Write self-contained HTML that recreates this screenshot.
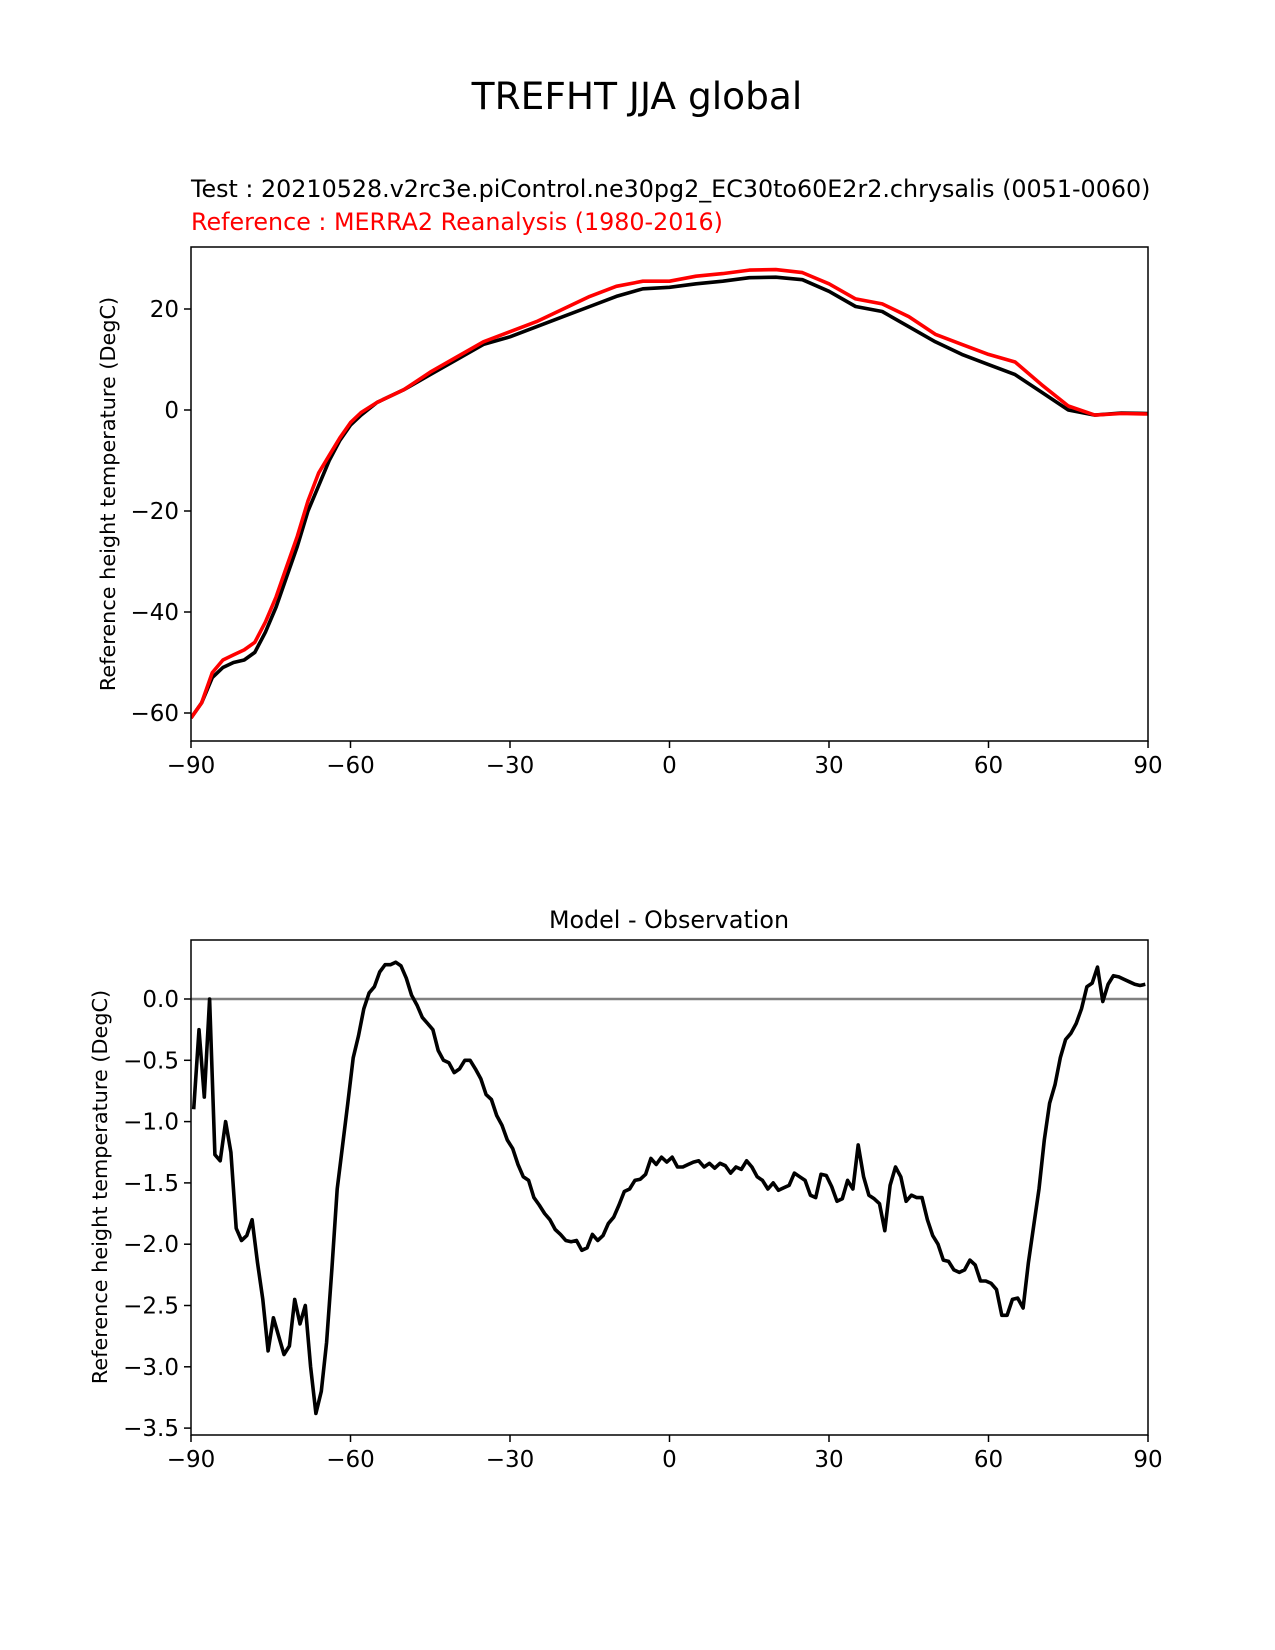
<!DOCTYPE html>
<html><head><meta charset="utf-8"><style>
body{margin:0;background:#fff;}
svg{display:block;font-family:"DejaVu Sans","Liberation Sans",sans-serif;}
</style></head><body>
<svg id="fig" width="1275" height="1650" viewBox="0 0 1275 1650">
<text x="637" y="109" font-size="37.5" text-anchor="middle">TREFHT JJA global</text>
<text x="191" y="197" font-size="23.8">Test : 20210528.v2rc3e.piControl.ne30pg2_EC30to60E2r2.chrysalis (0051-0060)</text>
<text x="191" y="230" font-size="23.8" fill="#ff0000">Reference : MERRA2 Reanalysis (1980-2016)</text>
<text x="669" y="928" font-size="23.8" text-anchor="middle">Model - Observation</text>
<g id="top"></g>
<g id="bot"></g>
</svg>
<script>
const lats = [-90,-88,-86,-84,-82,-80,-78,-76,-74,-72,-70,-68,-66,-64,-62,-60,-58,-55,-50,-45,-40,-35,-30,-25,-20,-15,-10,-5,0,5,10,15,20,25,30,35,40,45,50,55,60,65,70,75,80,85,90];
const testVals = [-61,-58,-53,-51,-50,-49.5,-48,-44,-39,-33,-27,-20,-15,-10,-6,-3,-1,1.5,4,7,10,13,14.5,16.5,18.5,20.5,22.5,24,24.3,25,25.5,26.2,26.3,25.8,23.5,20.5,19.5,16.5,13.5,11,9,7,3.5,0,-1,-0.6,-0.7];
const refVals = [-61,-58,-52,-49.5,-48.5,-47.5,-46,-42,-37,-31,-25,-18,-12.5,-9,-5.5,-2.5,-0.5,1.5,4,7.5,10.5,13.5,15.5,17.5,20,22.5,24.5,25.5,25.5,26.5,27,27.7,27.8,27.2,25,22,21,18.5,15,13,11,9.5,5,0.8,-1,-0.7,-0.8];
const diffVals = [-0.9,-0.25,-0.8,0.0,-1.27,-1.32,-1.0,-1.25,-1.87,-1.97,-1.93,-1.8,-2.15,-2.45,-2.87,-2.6,-2.75,-2.9,-2.83,-2.45,-2.65,-2.5,-3.0,-3.38,-3.2,-2.8,-2.2,-1.55,-1.2,-0.85,-0.48,-0.3,-0.08,0.05,0.1,0.22,0.28,0.28,0.3,0.27,0.17,0.03,-0.05,-0.15,-0.2,-0.25,-0.42,-0.5,-0.52,-0.6,-0.57,-0.5,-0.5,-0.57,-0.65,-0.78,-0.82,-0.95,-1.03,-1.15,-1.22,-1.35,-1.45,-1.48,-1.62,-1.68,-1.75,-1.8,-1.88,-1.92,-1.97,-1.98,-1.97,-2.05,-2.03,-1.92,-1.97,-1.93,-1.83,-1.78,-1.68,-1.57,-1.55,-1.48,-1.47,-1.43,-1.3,-1.35,-1.29,-1.33,-1.29,-1.37,-1.37,-1.35,-1.33,-1.32,-1.37,-1.34,-1.38,-1.34,-1.36,-1.42,-1.37,-1.39,-1.32,-1.37,-1.45,-1.48,-1.55,-1.5,-1.56,-1.54,-1.52,-1.42,-1.45,-1.48,-1.6,-1.62,-1.43,-1.44,-1.53,-1.65,-1.63,-1.48,-1.55,-1.19,-1.45,-1.6,-1.63,-1.67,-1.89,-1.52,-1.37,-1.45,-1.65,-1.6,-1.62,-1.62,-1.8,-1.93,-2.0,-2.13,-2.14,-2.21,-2.23,-2.21,-2.13,-2.17,-2.3,-2.3,-2.32,-2.37,-2.58,-2.58,-2.45,-2.44,-2.52,-2.15,-1.85,-1.55,-1.15,-0.85,-0.7,-0.48,-0.33,-0.28,-0.2,-0.08,0.1,0.13,0.26,-0.02,0.12,0.19,0.18,0.16,0.14,0.12,0.11,0.12];
const xTicks = [-90,-60,-30,0,30,60,90];
const topYTicks = [-60,-40,-20,0,20];
const botYTicks = [-3.5,-3.0,-2.5,-2.0,-1.5,-1.0,-0.5,0.0];
const NS='http://www.w3.org/2000/svg';
const X0=191,X1=1148;
function xs(v){return X0+(v+90)/180*(X1-X0);}
function topY(v){return 410-(v/20)*101;}
function botY(v){return 999-(v/0.5)*61.3;}
function mk(p,t,a){const e=document.createElementNS(NS,t);for(const k in a)e.setAttribute(k,a[k]);p.appendChild(e);return e;}
function fmtMinus(s){return String(s).replace('-','\u2212');}
function axes(g,top,bot,yf,yticks,dec){
  for(const t of xTicks){
    const l=mk(g,'line',{x1:xs(t),x2:xs(t),y1:bot,y2:bot+7,stroke:'#000','stroke-width':1.5});
    
    
    const tx=mk(g,'text',{x:xs(t),y:bot+32,'font-size':23,'text-anchor':'middle'});
    tx.textContent=fmtMinus(t);
    
    
  }
  for(const t of yticks){
    const y=yf(t);
    const l=mk(g,'line',{x1:X0-7,x2:X0,y1:y,y2:y,stroke:'#000','stroke-width':1.5});
    
    
    const tx=mk(g,'text',{x:X0-12,y:y+8,'font-size':23,'text-anchor':'end'});
    tx.textContent=fmtMinus(dec?t.toFixed(1):t);
    
    
  }
}
function line(g,xsArr,ys,yf,col,name){
  const d=xsArr.map((x,i)=>(i?'L':'M')+xs(x).toFixed(1)+','+yf(ys[i]).toFixed(1)).join('');
  const p=mk(g,'path',{d:d,fill:'none',stroke:col,'stroke-width':3.6,'stroke-linejoin':'round'});
  
  
}
const gt=document.getElementById('top');
const TT=247,TB=741;
mk(gt,'clipPath',{id:'ct'});
mk(document.getElementById('ct'),'rect',{x:X0,y:TT,width:X1-X0,height:TB-TT});
const gtl=mk(gt,'g',{'clip-path':'url(#ct)'});
line(gtl,lats,testVals,topY,'#000','test-line');
line(gtl,lats,refVals,topY,'#ff0000','reference-line');
const fr1=mk(gt,'rect',{x:X0,y:TT,width:X1-X0,height:TB-TT,fill:'none',stroke:'#000','stroke-width':1.5});


axes(gt,TT,TB,topY,topYTicks,false);
const yl1=mk(gt,'text',{transform:'translate(115,494) rotate(-90)','font-size':20.8,'text-anchor':'middle'});
yl1.textContent='Reference height temperature (DegC)';


const gb=document.getElementById('bot');
const BT=940,BB=1435;
const dlats=diffVals.map((v,i)=>-89.5+i);
const zl=mk(gb,'line',{x1:X0,x2:X1,y1:botY(0),y2:botY(0),stroke:'#808080','stroke-width':2.5});


line(gb,dlats,diffVals,botY,'#000','diff-line');
const fr2=mk(gb,'rect',{x:X0,y:BT,width:X1-X0,height:BB-BT,fill:'none',stroke:'#000','stroke-width':1.5});


axes(gb,BT,BB,botY,botYTicks,true);
const yl2=mk(gb,'text',{transform:'translate(107,1187) rotate(-90)','font-size':20.8,'text-anchor':'middle'});
yl2.textContent='Reference height temperature (DegC)';


</script>
</body></html>
